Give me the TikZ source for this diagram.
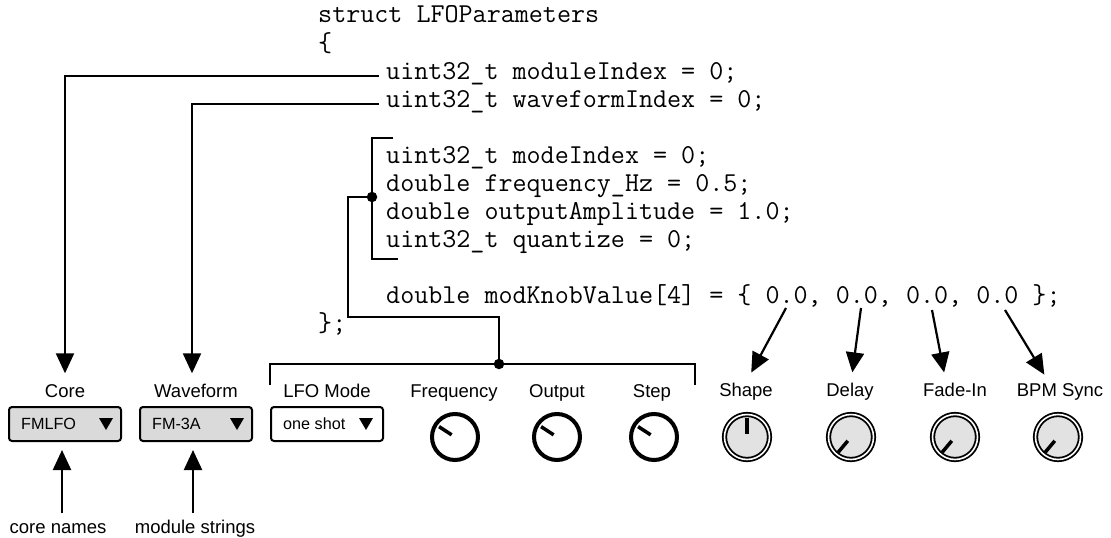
\documentclass[tikz,border=0pt]{standalone}
\usepackage{fontspec}
\setmainfont{Liberation Sans}
\usetikzlibrary{arrows.meta}
\definecolor{panelgray}{RGB}{218,218,218}
\definecolor{knobgray}{RGB}{226,226,226}

\begin{document}
\begin{tikzpicture}[x=1pt,y=-1pt,
  code/.style={anchor=base west, inner sep=0pt,
    font={\fontsize{27.28pt}{28pt}\ttfamily}},
  lbl/.style={anchor=base, inner sep=0pt, text height=13.5pt, text depth=4pt,
    font=\fontsize{18.5pt}{20pt}\selectfont},
  boxtxt/.style={anchor=base west, inner sep=0pt, font=\fontsize{16.2pt}{18pt}\selectfont},
  conn/.style={line width=2.2pt},
  arr/.style={conn, -{Triangle[length=20pt,width=18pt]}},
  dot/.style={circle, fill=black, inner sep=0pt, minimum size=10.5pt},
  ddbox/.style={draw, line width=2pt, rounded corners=3pt, minimum width=112pt,
    minimum height=34pt, inner sep=0pt},
  knob/.style={circle, draw, line width=4pt, minimum size=46pt, inner sep=0pt, outer sep=0pt},
  modknob/.style={circle, draw, line width=1.8pt, double=white, double distance=1.6pt,
    fill=knobgray, minimum size=45pt, inner sep=0pt, outer sep=0pt},
  ptr/.style={line width=3.5pt},
  ddarrow/.style={fill=black}
]
\useasboundingbox (0,0) rectangle (1111,538);

% ---- the C++ struct ----
\node[code] (lstruct) at (318,23)  {struct LFOParameters};
\node[code] (lopen)   at (318,51)  {\{};
\node[code] (lmod)    at (386,79)  {uint32\_t moduleIndex = 0;};
\node[code] (lwave)   at (386,107) {uint32\_t waveformIndex = 0;};
\node[code] (lmode)   at (386,163) {uint32\_t modeIndex = 0;};
\node[code] (lfreq)   at (386,191) {double frequency\_Hz = 0.5;};
\node[code] (lout)    at (386,219) {double outputAmplitude = 1.0;};
\node[code] (lquant)  at (386,247) {uint32\_t quantize = 0;};
\node[code] (lknob)   at (386,303) {double modKnobValue[4] = \{ 0.0, 0.0, 0.0, 0.0 \};};
\node[code] (lclose)  at (318,331) {\};};

% ---- control labels ----
\node[lbl] (core)  at (65,397)   {Core};
\node[lbl] (wave)  at (196,397)  {Waveform};
\node[lbl] (mode)  at (327,397)  {LFO Mode};
\node[lbl] (freq)  at (454,397)  {Frequency};
\node[lbl] (outp)  at (557,397)  {Output};
\node[lbl] (stepl) at (652,397)  {Step};
\node[lbl] (shape) at (746,396)  {Shape};
\node[lbl] (delay) at (850,396)  {Delay};
\node[lbl] (fade)  at (955,396)  {Fade-In};
\node[lbl] (bpm)   at (1060,396) {BPM Sync};

% ---- drop-down menus ----
\node[ddbox, fill=panelgray] (corebox) at (65,424)  {};
\node[ddbox, fill=panelgray] (wavebox) at (196,424) {};
\node[ddbox, fill=white]     (modebox) at (327,424) {};
\node[boxtxt] (coretxt) at (21,429)  {FMLFO};
\node[boxtxt] (wavetxt) at (152,429) {FM-3A};
\node[boxtxt] (modetxt) at (283,429) {one shot};
\fill[ddarrow] (99,418) -- (113,418) -- (106,430) -- cycle;
\fill[ddarrow] (230,418) -- (244,418) -- (237,430) -- cycle;
\fill[ddarrow] (359,418) -- (373,418) -- (366,430) -- cycle;

% ---- knobs ----
\node[knob] (kfreq) at (455,437) {};
\node[knob] (kout)  at (557,437) {};
\node[knob] (kstep) at (654,437) {};
\foreach \k in {kfreq,kout,kstep}
  \draw[ptr] ([shift={(147:4pt)}]\k.center) -- ([shift={(147:19pt)}]\k.center);

\node[modknob] (kshape) at (747,437)  {};
\node[modknob] (kdelay) at (851,437)  {};
\node[modknob] (kfade)  at (955,437)  {};
\node[modknob] (kbpm)   at (1058,437) {};
\draw[ptr] ([shift={(90:3pt)}]kshape.center) -- ([shift={(90:19pt)}]kshape.center);
\foreach \k in {kdelay,kfade,kbpm}
  \draw[ptr] ([shift={(230:5pt)}]\k.center) -- ([shift={(230:20pt)}]\k.center);

% ---- bottom captions ----
\node[lbl] (cnames)  at (58,533)  {core names};
\node[lbl] (mstrings) at (195,533) {module strings};
\draw[arr, shorten <=6pt, shorten >=8pt] ([xshift=4pt]cnames.north) -- ([xshift=4pt]cnames.north |- corebox.south);
\draw[arr, shorten <=6pt, shorten >=8pt] ([xshift=-2pt]mstrings.north) -- ([xshift=-2pt]mstrings.north |- wavebox.south);

% ---- struct members to menus ----
\draw[arr, shorten >=10pt] ([xshift=-7pt,yshift=3pt]lmod.base west) -| (core.north);
\draw[arr, shorten >=10pt] ([xshift=-7pt,yshift=3pt]lwave.base west) -| ([xshift=-4pt]wave.north);

% ---- bracket over the mode / frequency / output / quantize members ----
\coordinate (bt) at (393,138);
\coordinate (bb) at (398,259);
\draw[conn] (bt) -- ++(-21,0) |- (bb);
\node[dot] (jcode) at (372,197) {};

% ---- bracket over the four plain controls ----
\coordinate (pl) at (270,385);
\coordinate (pr) at (695,385);
\draw[conn] (pl) -- ++(0,-21) -| (pr);
\node[dot] (jpanel) at (499,364) {};
\draw[conn] (jcode.center) -- ++(-24,0) -- ++(0,120) -| (jpanel.center);

% ---- modKnobValue entries to the mod knobs ----
\coordinate (v1) at (786,308);
\coordinate (v2) at (861,308);
\coordinate (v3) at (932,310);
\coordinate (v4) at (1005,310);
\draw[arr, shorten >=11pt] (v1) -- (shape.north);
\draw[arr, shorten >=10pt] (v2) -- ([xshift=1pt]delay.north);
\draw[arr, shorten >=10pt] (v3) -- ([xshift=-9pt]fade.north);
\draw[arr, shorten >=9pt]  (v4) -- ([xshift=-11pt]bpm.north);
\end{tikzpicture}
\end{document}
